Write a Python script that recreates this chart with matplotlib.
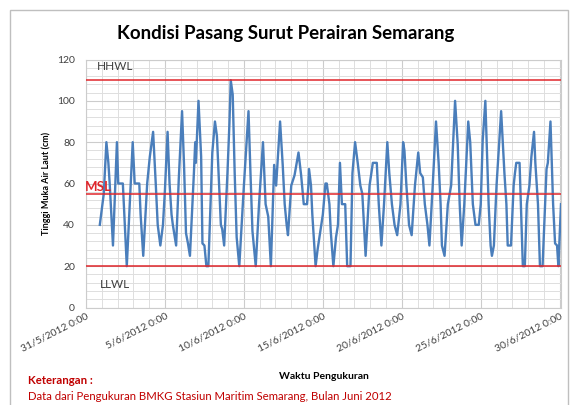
import matplotlib
matplotlib.use("Agg")
import matplotlib.pyplot as plt
from matplotlib.patches import Rectangle

plt.rcParams['font.family'] = ['Lato', 'DejaVu Sans']

# hours after 31/5/2012 0:00 and water level (cm)
hours = [21, 25, 27, 31, 34, 36, 41, 47, 49, 56, 62, 71, 74, 81, 83, 87, 93, 97, 102,
         106, 109, 113, 117, 120, 124, 127, 130, 132, 137, 141, 146, 149, 152, 155, 158,
         164, 166, 167, 171, 175, 177, 180, 183, 186, 192, 196, 199, 202, 205, 207, 210,
         215, 218, 220, 223, 226, 229, 233, 240, 247, 250, 253, 258, 263, 269, 273, 277,
         281, 286, 289, 295, 299, 302, 305, 307, 312, 317, 323, 327, 331, 336, 338, 339,
         342, 344, 349, 352, 360, 364, 366, 370, 372, 376, 380, 383, 386, 389, 394, 397,
         402, 405, 409, 413, 417, 420, 422, 425, 431, 436, 442, 445, 449, 453, 458, 461,
         465, 469, 473, 478, 482, 484, 487, 489, 491, 495, 500, 505, 508, 512, 515, 519,
         522, 527, 532, 536, 539, 541, 545, 550, 555, 561, 565, 568, 571, 575, 581, 584,
         588, 592, 597, 600, 603, 607, 610, 612, 615, 617, 620, 624, 631, 636, 639, 641,
         646, 650, 652, 654, 659, 661, 664, 667, 670, 674, 677, 681, 683, 687, 690, 694,
         700, 702, 706, 710, 713, 716, 718, 722]
level = [40, 50, 55, 80, 70, 60, 30, 80, 60, 60, 20, 80, 60, 60, 45, 25, 60, 73, 85,
         60, 40, 30, 40, 57, 85, 60, 45, 40, 30, 62, 95, 69, 36, 31, 25,
         65, 80, 70, 100, 73, 31, 30, 20, 20, 75, 90, 83, 62, 40, 38, 30,
         65, 89, 110, 103, 65, 34, 20, 59, 95, 65, 37, 20, 50, 80, 50, 44,
         20, 69, 59, 90, 69, 50, 40, 35, 59, 64, 75, 64, 50, 50, 59, 67,
         59, 45, 20, 28, 45, 60, 60, 50, 37, 20, 34, 40, 70, 50, 50, 20,
         20, 65, 80, 70, 59, 55, 43, 25, 59, 70, 70, 50, 30, 50, 80, 65,
         50, 40, 35, 50, 80, 76, 59, 50, 40, 35, 59, 75, 65, 63, 50, 40,
         30, 59, 90, 70, 50, 30, 25, 50, 59, 100, 79, 50, 30, 50, 90, 80,
         50, 40, 40, 50, 81, 100, 70, 50, 30, 25, 30, 59, 95, 65, 50, 30,
         30, 59, 65, 70, 70, 50, 20, 20, 50, 59, 73, 85, 70, 50, 20, 20,
         67, 70, 90, 50, 31, 30, 20, 50]

tick_hours = [0, 120, 240, 360, 480, 600, 720]
tick_labels = ['31/5/2012 0:00', '5/6/2012 0:00', '10/6/2012 0:00', '15/6/2012 0:00',
               '20/6/2012 0:00', '25/6/2012 0:00', '30/6/2012 0:00']

ref_names = ['HHWL', 'MSL', 'LLWL']
ref_levels = [110, 55, 20]

fig = plt.figure(figsize=(5.72, 4.05), dpi=100)
W, H = 572, 405

# outer chart frame
fig.patches.append(Rectangle((10 / W, -0.05), 558 / W, 1.05 - 10 / H, transform=fig.transFigure,
                             facecolor='none', edgecolor='#bfbfbf', linewidth=1.0))

ax = fig.add_axes([86 / W, 1 - 307.5 / H, 475 / W, 248 / H])

ax.plot(hours, level, color='#4a7ebb', linewidth=1.7, zorder=3)

red = '#e0262b'
for name, lv in zip(ref_names, ref_levels):
    ax.axhline(lv, color=red, linewidth=1.1, zorder=4)

ax.set_xlim(0, 722)
ax.set_ylim(0, 120)
ax.set_yticks(range(0, 121, 20))
ax.set_yticks(range(0, 121, 4), minor=True)
ax.set_xticks(tick_hours)
ax.set_xticks(range(0, 722, 24), minor=True)
ax.set_xticklabels(tick_labels, rotation=27, ha='right', va='top',
                   rotation_mode='anchor', fontsize=7.5, color='#404040')
ax.tick_params(axis='y', labelsize=7.5, colors='#404040', length=0, pad=8)
ax.tick_params(axis='x', length=0, pad=3)
ax.tick_params(which='minor', length=0)
ax.grid(which='major', color='#cccccc', linewidth=0.8, zorder=0)
ax.grid(which='minor', color='#dedede', linewidth=0.7, zorder=0)
ax.set_axisbelow(True)
for s in ax.spines.values():
    s.set_color('#cccccc')
    s.set_linewidth(0.8)

ax.text(17, 116.5, 'HHWL', fontsize=8.5, color='#404040', va='center')
ax.text(21, 11, 'LLWL', fontsize=8.5, color='#404040', va='center')
ax.text(-1.5, 58.5, 'MSL', fontsize=9.5, color=red, fontweight='bold', va='center', ha='left')

ax.set_ylabel('Tinggi Muka Air Laut (cm)', fontsize=6.5, fontweight='bold', labelpad=4)
ax.set_xlabel('Waktu Pengukuran', fontsize=7.5, fontweight='bold', labelpad=0)
ax.xaxis.set_label_coords(0.5, -0.26)

fig.text(0.5, 1 - 33 / H, 'Kondisi Pasang Surut Perairan Semarang', ha='center', va='center',
         fontsize=13.5, fontweight='bold')
fig.text(28 / W, 1 - 381 / H, 'Keterangan :', color='#c00000', fontsize=8.2,
         fontweight='bold', va='center')
fig.text(28 / W, 1 - 397 / H, 'Data dari Pengukuran BMKG Stasiun Maritim Semarang, Bulan Juni 2012',
         color='#c00000', fontsize=8.2, va='center')

fig.savefig('out.png', dpi=100)
